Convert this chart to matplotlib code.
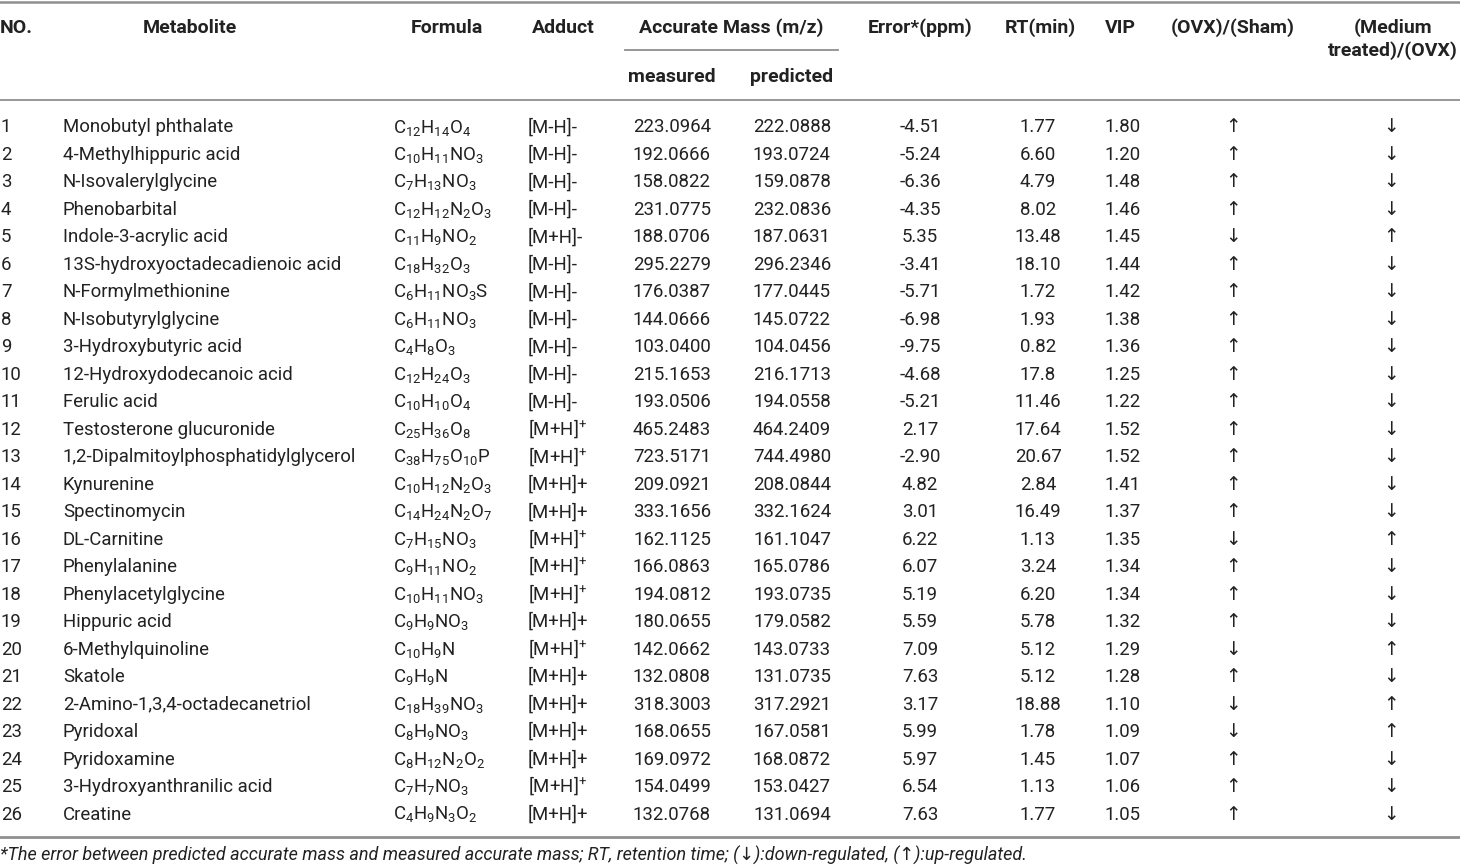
import re
import matplotlib
matplotlib.use("Agg")
import matplotlib.pyplot as plt

plt.rcParams['font.family'] = ['Roboto', 'DejaVu Sans']
plt.rcParams['mathtext.default'] = 'regular'

numbers = [str(i) for i in range(1, 27)]
metabolites = [
    "Monobutyl phthalate", "4-Methylhippuric acid", "N-Isovalerylglycine",
    "Phenobarbital", "Indole-3-acrylic acid", "13S-hydroxyoctadecadienoic acid",
    "N-Formylmethionine", "N-Isobutyrylglycine", "3-Hydroxybutyric acid",
    "12-Hydroxydodecanoic acid", "Ferulic acid", "Testosterone glucuronide",
    "1,2-Dipalmitoylphosphatidylglycerol", "Kynurenine", "Spectinomycin",
    "DL-Carnitine", "Phenylalanine", "Phenylacetylglycine", "Hippuric acid",
    "6-Methylquinoline", "Skatole", "2-Amino-1,3,4-octadecanetriol",
    "Pyridoxal", "Pyridoxamine", "3-Hydroxyanthranilic acid", "Creatine",
]
formulas = [
    "C12H14O4", "C10H11NO3", "C7H13NO3", "C12H12N2O3", "C11H9NO2", "C18H32O3",
    "C6H11NO3S", "C6H11NO3", "C4H8O3", "C12H24O3", "C10H10O4", "C25H36O8",
    "C38H75O10P", "C10H12N2O3", "C14H24N2O7", "C7H15NO3", "C9H11NO2",
    "C10H11NO3", "C9H9NO3", "C10H9N", "C9H9N", "C18H39NO3", "C8H9NO3",
    "C8H12N2O2", "C7H7NO3", "C4H9N3O2",
]
adducts = [
    "[M-H]-", "[M-H]-", "[M-H]-", "[M-H]-", "[M+H]-", "[M-H]-", "[M-H]-",
    "[M-H]-", "[M-H]-", "[M-H]-", "[M-H]-", "[M+H]^+", "[M+H]^+", "[M+H]+",
    "[M+H]+", "[M+H]^+", "[M+H]^+", "[M+H]^+", "[M+H]+", "[M+H]^+", "[M+H]+",
    "[M+H]+", "[M+H]+", "[M+H]+", "[M+H]^+", "[M+H]+",
]
measured = [
    "223.0964", "192.0666", "158.0822", "231.0775", "188.0706", "295.2279",
    "176.0387", "144.0666", "103.0400", "215.1653", "193.0506", "465.2483",
    "723.5171", "209.0921", "333.1656", "162.1125", "166.0863", "194.0812",
    "180.0655", "142.0662", "132.0808", "318.3003", "168.0655", "169.0972",
    "154.0499", "132.0768",
]
predicted = [
    "222.0888", "193.0724", "159.0878", "232.0836", "187.0631", "296.2346",
    "177.0445", "145.0722", "104.0456", "216.1713", "194.0558", "464.2409",
    "744.4980", "208.0844", "332.1624", "161.1047", "165.0786", "193.0735",
    "179.0582", "143.0733", "131.0735", "317.2921", "167.0581", "168.0872",
    "153.0427", "131.0694",
]
error_ppm = [
    "-4.51", "-5.24", "-6.36", "-4.35", "5.35", "-3.41", "-5.71", "-6.98",
    "-9.75", "-4.68", "-5.21", "2.17", "-2.90", "4.82", "3.01", "6.22", "6.07",
    "5.19", "5.59", "7.09", "7.63", "3.17", "5.99", "5.97", "6.54", "7.63",
]
rt_min = [
    "1.77", "6.60", "4.79", "8.02", "13.48", "18.10", "1.72", "1.93", "0.82",
    "17.8", "11.46", "17.64", "20.67", "2.84", "16.49", "1.13", "3.24", "6.20",
    "5.78", "5.12", "5.12", "18.88", "1.78", "1.45", "1.13", "1.77",
]
vip = [
    "1.80", "1.20", "1.48", "1.46", "1.45", "1.44", "1.42", "1.38", "1.36",
    "1.25", "1.22", "1.52", "1.52", "1.41", "1.37", "1.35", "1.34", "1.34",
    "1.32", "1.29", "1.28", "1.10", "1.09", "1.07", "1.06", "1.05",
]
# u = up-regulated, d = down-regulated
ovx_sham = ["u", "u", "u", "u", "d", "u", "u", "u", "u", "u", "u", "u", "u",
            "u", "u", "d", "u", "u", "u", "d", "u", "d", "d", "u", "u", "u"]
medium_ovx = ["d", "d", "d", "d", "u", "d", "d", "d", "d", "d", "d", "d", "d",
              "d", "d", "u", "d", "d", "d", "u", "d", "u", "u", "d", "d", "d"]

arrow = {"u": "\u2191", "d": "\u2193"}


def formula_tex(f):
    return "$\\mathregular{" + re.sub(r"(\d+)", r"_{\1}", f) + "}$"


def adduct_tex(a):
    if a.endswith("^+"):
        return a[:-2] + "$^{+}$"
    return a


fig = plt.figure(figsize=(14.6, 8.67), dpi=100)
ax = fig.add_axes([0, 0, 1, 1])
ax.set_xlim(0, 1460)
ax.set_ylim(867, 0)
ax.axis("off")

line_col = "#8f8f8f"
ax.plot([0, 1460], [1.5, 1.5], color=line_col, lw=1.8)
ax.plot([625, 838], [50, 50], color=line_col, lw=1.3)
ax.plot([0, 1460], [100, 100], color=line_col, lw=1.3)
ax.plot([0, 1460], [836.5, 836.5], color=line_col, lw=2.0)

txt_col = "#222222"
hkw = dict(fontsize=14, fontweight="bold", color=txt_col, va="baseline")
hy = 33
ax.text(0, hy, "NO.", ha="left", **hkw)
ax.text(190, hy, "Metabolite", ha="center", **hkw)
ax.text(447, hy, "Formula", ha="center", **hkw)
ax.text(563, hy, "Adduct", ha="center", **hkw)
ax.text(731, hy, "Accurate Mass (m/z)", ha="center", **hkw)
ax.text(920, hy, "Error*(ppm)", ha="center", **hkw)
ax.text(1040, hy, "RT(min)", ha="center", **hkw)
ax.text(1120, hy, "VIP", ha="center", **hkw)
ax.text(1233, hy, "(OVX)/(Sham)", ha="center", **hkw)
ax.text(1393, hy, "(Medium", ha="center", **hkw)
ax.text(1393, hy + 23, "treated)/(OVX)", ha="center", **hkw)
ax.text(672, 82, "measured", ha="center", **hkw)
ax.text(792, 82, "predicted", ha="center", **hkw)

kw = dict(fontsize=13.4, fontweight="normal", color=txt_col, va="baseline")
y0 = 126
dy = (813 - 126) / 25
for i in range(len(numbers)):
    y = y0 + i * dy + 6.5
    ax.text(1, y, numbers[i], ha="left", **kw)
    ax.text(63, y, metabolites[i], ha="left", **kw)
    ax.text(393, y, formula_tex(formulas[i]), ha="left", **kw)
    ax.text(528, y, adduct_tex(adducts[i]), ha="left", **kw)
    ax.text(672, y, measured[i], ha="center", **kw)
    ax.text(792, y, predicted[i], ha="center", **kw)
    ax.text(920, y, error_ppm[i], ha="center", **kw)
    ax.text(1038, y, rt_min[i], ha="center", **kw)
    ax.text(1123, y, vip[i], ha="center", **kw)
    ax.text(1233, y, arrow[ovx_sham[i]], ha="center", **kw)
    ax.text(1391, y, arrow[medium_ovx[i]], ha="center", **kw)

ax.text(0, 861, "*The error between predicted accurate mass and measured accurate mass; "
        "RT, retention time; (\u2193):down-regulated, (\u2191):up-regulated.",
        ha="left", fontsize=13.0, style="italic", fontweight="normal",
        color=txt_col, va="baseline")

fig.savefig("out.png", dpi=100)
